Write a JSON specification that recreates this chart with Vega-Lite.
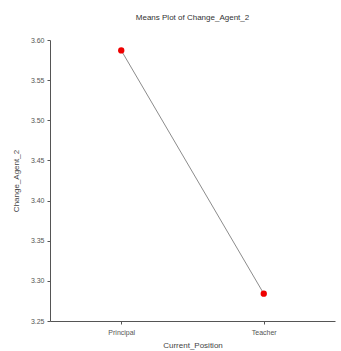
{
  "$schema": "https://vega.github.io/schema/vega-lite/v6.json",
  "autosize": "none",
  "width": 285,
  "height": 281,
  "padding": {"left": 50, "top": 40, "right": 6, "bottom": 30},
  "background": "white",
  "title": {
    "text": "Means Plot of Change_Agent_2",
    "font": "Liberation Sans",
    "fontSize": 8,
    "fontWeight": "normal",
    "color": "#333333",
    "offset": 14,
    "anchor": "middle"
  },
  "config": {
    "view": {"stroke": null},
    "axis": {
      "grid": false,
      "domainColor": "#555555",
      "tickColor": "#555555",
      "tickSize": 3,
      "labelFont": "Liberation Sans",
      "labelFontSize": 7,
      "labelColor": "#555555",
      "titleFont": "Liberation Sans",
      "titleFontSize": 8,
      "titleFontWeight": "normal",
      "titleColor": "#444444"
    }
  },
  "data": {
    "values": [
      {"Current_Position": "Principal", "Change_Agent_2": 3.587},
      {"Current_Position": "Teacher", "Change_Agent_2": 3.284}
    ]
  },
  "encoding": {
    "x": {
      "field": "Current_Position",
      "type": "nominal",
      "scale": {"type": "point", "padding": 0.5},
      "axis": {"labelAngle": 0, "labelPadding": 4, "titlePadding": 6}
    },
    "y": {
      "field": "Change_Agent_2",
      "type": "quantitative",
      "scale": {"domain": [3.25, 3.6], "zero": false, "nice": false},
      "axis": {"values": [3.25, 3.3, 3.35, 3.4, 3.45, 3.5, 3.55, 3.6], "format": ".2f", "labelPadding": 3, "titlePadding": 10}
    }
  },
  "layer": [
    {"mark": {"type": "line", "color": "#8c8c8c", "strokeWidth": 1}},
    {"mark": {"type": "point", "filled": true, "color": "#ee0000", "size": 40, "opacity": 1}}
  ]
}
